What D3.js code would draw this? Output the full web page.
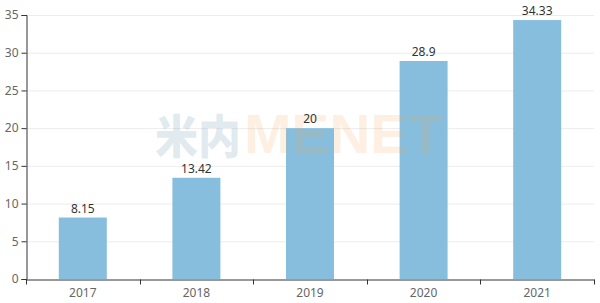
<!DOCTYPE html>
<html><head><meta charset="utf-8">
<script src="https://cdn.jsdelivr.net/npm/d3@7"></script>
<style>body{margin:0;background:#fff}svg{display:block}text{font-family:"Noto Sans","Open Sans",sans-serif}</style>
</head><body>
<svg id="c" width="600" height="303"></svg>
<script>
const categories = ["2017","2018","2019","2020","2021"];
const values = [8.15, 13.42, 20, 28.9, 34.33];
const valueLabels = ["8.15","13.42","20","28.9","34.33"];
const yTicks = [0,5,10,15,20,25,30,35];

const svg = d3.select("#c");
const m = {l:26, r:6, t:15, b:24};
const W = 600, H = 303;
const x = d3.scaleBand().domain(categories).range([m.l, W-m.r]).paddingInner(0).paddingOuter(0);
const y = d3.scaleLinear().domain([0,35]).range([H-m.b, m.t]);

// grid
svg.append("g").selectAll("line").data(yTicks.slice(1)).join("line")
  .attr("x1", m.l).attr("x2", W-m.r)
  .attr("y1", d=>y(d)+0.5).attr("y2", d=>y(d)+0.5)
  .attr("stroke", "#ececec").attr("stroke-width", 1);

// bars
const bw = 48;
svg.append("g").selectAll("rect").data(values).join("rect")
  .attr("x", (d,i)=>x(categories[i]) + x.bandwidth()/2 - bw/2)
  .attr("width", bw)
  .attr("y", d=>y(d))
  .attr("height", d=>y(0)-y(d))
  .attr("fill", "#87bedd");

// watermark (overlay)
const wm = svg.append("g");
wm.append("text").attr("x", 155).attr("y", 153).text("米内")
  .attr("font-size", 46).attr("font-weight", 900).attr("fill", "#7aa3ba").attr("fill-opacity", 0.22)
  .attr("textLength", 86).attr("lengthAdjust", "spacingAndGlyphs")
  .style("font-family", "'Noto Sans CJK SC',sans-serif");
wm.append("text").attr("x", 244).attr("y", 153).text("MENET")
  .attr("font-size", 55).attr("font-weight", 900).attr("fill", "#f5a050").attr("fill-opacity", 0.16)
  .attr("textLength", 199).attr("lengthAdjust", "spacingAndGlyphs")
  .style("font-family", "'Liberation Sans',Arial,sans-serif");

// value labels
svg.append("g").selectAll("text").data(values).join("text")
  .attr("x", (d,i)=>x(categories[i]) + x.bandwidth()/2)
  .attr("y", d=>y(d)-5)
  .attr("text-anchor", "middle")
  .attr("font-size", 12).attr("fill", "#333")
  .text((d,i)=>valueLabels[i]);

// y axis
const ya = svg.append("g").attr("transform", `translate(${m.l+0.5},0)`)
  .call(d3.axisLeft(y).tickValues(yTicks).tickSize(5).tickPadding(3));
ya.select(".domain").attr("stroke", "#333");
ya.selectAll(".tick line").attr("stroke", "#333");
ya.selectAll(".tick text").attr("fill", "#666").attr("font-size", 12).style("font-family", "'Noto Sans','Open Sans',sans-serif");

// x axis
const xa = svg.append("g").attr("transform", `translate(0,${H-m.b+0.5})`)
  .call(d3.axisBottom(x).tickSize(0).tickPadding(9));
xa.select(".domain").attr("stroke", "#333");
xa.selectAll(".tick text").attr("fill", "#666").attr("font-size", 12).style("font-family", "'Noto Sans','Open Sans',sans-serif");
// boundary ticks
const bounds = categories.map(c=>x(c)).concat([W-m.r]);
xa.append("g").selectAll("line").data(bounds).join("line")
  .attr("x1", d=>Math.round(d)+0.5).attr("x2", d=>Math.round(d)+0.5)
  .attr("y1", 0).attr("y2", 5).attr("stroke", "#333");
</script>
</body></html>
